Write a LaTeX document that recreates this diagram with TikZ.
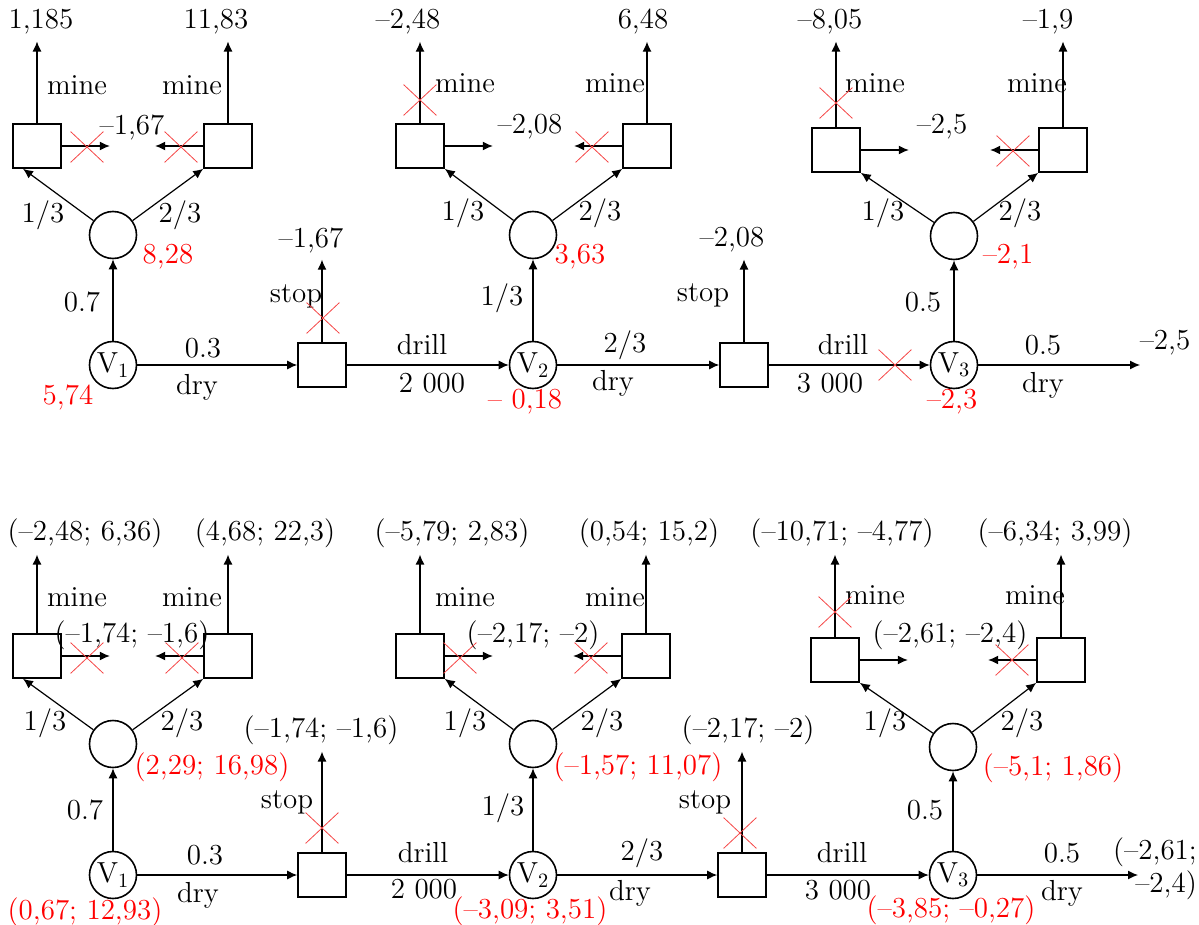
\documentclass[tikz,border=0pt]{standalone}
\usepackage{fontspec}
\usetikzlibrary{arrows.meta, positioning, shapes.misc}
\definecolor{crossred}{RGB}{245,70,70}

\begin{document}
\begin{tikzpicture}[
  x=0.5pt, y=-0.5pt,
  font=\fontsize{14.5}{16.5}\selectfont,
  dec/.style={rectangle, draw, thick, minimum width=24pt, minimum height=22pt},
  chance/.style={circle, draw, thick, minimum size=23.5pt, inner sep=0pt},
  arrow/.style={-{Latex[length=5pt, width=4.5pt]}, semithick},
  ev/.style={text=red},
  nix/.style={cross out, draw=crossred, minimum width=16pt, minimum height=15pt, inner sep=0pt}
]
\useasboundingbox (0,0) rectangle (1199,925);

% upper tree
\node (tV1) [chance] at (113,365) {V\textsubscript{1}};
\node (tC1) [chance] at (113,235) {};
\node (tL1) [dec] at (37,146) {};
\node (tR1) [dec] at (228,146) {};
\node (tS1) [dec] at (322,365) {};
\node (tV2) [chance] at (533,365) {V\textsubscript{2}};
\node (tC2) [chance] at (533,235) {};
\node (tL2) [dec] at (420,146) {};
\node (tR2) [dec] at (647,146) {};
\node (tS2) [dec] at (744,365) {};
\node (tV3) [chance] at (954,365) {V\textsubscript{3}};
\node (tC3) [chance] at (954,236) {};
\node (tL3) [dec] at (836,150) {};
\node (tR3) [dec] at (1063,150) {};
\coordinate (tE) at (1140,365);

\node (tO1) at (41,22) {1,185};
\node (tO2) at (216,22) {11,83};
\node (tO3) at (408,22) {–2,48};
\node (tO4) at (643,22) {6,48};
\node (tO5) at (830,22) {–8,05};
\node (tO6) at (1048,22) {–1,9};
\node (tO7) at (311,240) {–1,67};
\node (tO8) at (732,240) {–2,08};
\node (tO9) at (1165,343) {–2,5};
\node (tO10) at (132,127) {–1,67};
\node (tO11) at (530,127) {–2,08};
\node (tO12) at (942,127) {–2,5};

\coordinate[right=24pt of tL1.east] (tl1);
\coordinate[left=24pt of tR1.west] (tr1);
\coordinate[right=24pt of tL2.east] (tl2);
\coordinate[left=24pt of tR2.west] (tr2);
\coordinate[right=24pt of tL3.east] (tl3);
\coordinate[left=24pt of tR3.west] (tr3);

\draw [arrow] (tV1) -- (tC1);
\draw [arrow] (tV1) -- (tS1);
\draw [arrow] (tS1) -- (tV2);
\draw [arrow] (tV2) -- (tC2);
\draw [arrow] (tV2) -- (tS2);
\draw [arrow] (tS2) -- (tV3);
\draw [arrow] (tV3) -- (tC3);
\draw [arrow] (tV3) -- (tE);
\draw [arrow] (tC1) -- ([xshift=-7pt]tL1.south);
\draw [arrow] (tC1) -- (tR1.south west);
\draw [arrow] (tC2) -- (tL2.south east);
\draw [arrow] (tC2) -- (tR2.south west);
\draw [arrow] (tC3) -- (tL3.south east);
\draw [arrow] (tC3) -- (tR3.south west);
\draw [arrow] (tL1) -- (tL1 |- tO1.south);
\draw [arrow] (tR1) -- (tR1 |- tO2.south);
\draw [arrow] (tL2) -- (tL2 |- tO3.south);
\draw [arrow] (tR2) -- (tR2 |- tO4.south);
\draw [arrow] (tL3) -- (tL3 |- tO5.south);
\draw [arrow] (tR3) -- (tR3 |- tO6.south);
\draw [arrow] (tS1) -- (tS1 |- tO7.south);
\draw [arrow] (tS2) -- (tS2 |- tO8.south);
\draw [arrow] (tL1.east) -- (tl1);
\draw [arrow] (tR1.west) -- (tr1);
\draw [arrow] (tL2.east) -- (tl2);
\draw [arrow] (tR2.west) -- (tr2);
\draw [arrow] (tL3.east) -- (tl3);
\draw [arrow] (tR3.west) -- (tr3);

\node (tm1) at (77,85) {mine};
\node (tm2) at (192,85) {mine};
\node (tm3) at (465,83) {mine};
\node (tm4) at (615,83) {mine};
\node (tm5) at (875,83) {mine};
\node (tm6) at (1037,83) {mine};
\node (tp1) at (43,215) {1/3};
\node (tp2) at (180,215) {2/3};
\node (tp3) at (463,213) {1/3};
\node (tp4) at (600,213) {2/3};
\node (tp5) at (883,213) {1/3};
\node (tp6) at (1020,213) {2/3};
\node (tq1) at (82,302) {0.7};
\node (tq2) at (502,298) {1/3};
\node (tq3) at (923,302) {0.5};
\node (th1) at (203,348) {0.3};
\node (th2) at (422,345) {drill};
\node (th3) at (625,345) {2/3};
\node (th4) at (843,345) {drill};
\node (th5) at (1043,345) {0.5};
\node (tb1) at (197,387) {dry};
\node (tb2) at (432,383) {2 000};
\node (tb3) at (613,383) {dry};
\node (tb4) at (830,383) {3 000};
\node (tb5) at (1043,385) {dry};
\node (ts1) at (296,296) {stop};
\node (ts2) at (703,295) {stop};
\node (te1) [ev] at (68,397) {5,74};
\node (te2) [ev] at (168,257) {8,28};
\node (te3) [ev] at (525,402) {– 0,18};
\node (te4) [ev] at (580,257) {3,63};
\node (te5) [ev] at (952,402) {–2,3};
\node (te6) [ev] at (1008,257) {–2,1};

\node (tx1) [nix] at (87,147) {};
\node (tx2) [nix] at (181,147) {};
\node (tx3) [nix] at (323,318) {};
\node (tx4) [nix] at (420,100) {};
\node (tx5) [nix] at (592,147) {};
\node (tx6) [nix] at (895,365) {};
\node (tx7) [nix] at (836,103) {};
\node (tx8) [nix] at (1013,151) {};

% lower tree
\node (bV1) [chance] at (113,875) {V\textsubscript{1}};
\node (bC1) [chance] at (113,744) {};
\node (bL1) [dec] at (37,656) {};
\node (bR1) [dec] at (228,656) {};
\node (bS1) [dec] at (322,875) {};
\node (bV2) [chance] at (533,875) {V\textsubscript{2}};
\node (bC2) [chance] at (533,744) {};
\node (bL2) [dec] at (420,656) {};
\node (bR2) [dec] at (646,656) {};
\node (bS2) [dec] at (742,875) {};
\node (bV3) [chance] at (953,875) {V\textsubscript{3}};
\node (bC3) [chance] at (953,747) {};
\node (bL3) [dec] at (835,660) {};
\node (bR3) [dec] at (1061,660) {};
\coordinate (bE) at (1138,875);

\node (bO1) at (85,533) {(–2,48; 6,36)};
\node (bO2) at (265,533) {(4,68; 22,3)};
\node (bO3) at (452,533) {(–5,79; 2,83)};
\node (bO4) at (649,533) {(0,54; 15,2)};
\node (bO5) at (842,533) {(–10,71; –4,77)};
\node (bO6) at (1055,533) {(–6,34; 3,99)};
\node (bO7) at (321,730) {(–1,74; –1,6)};
\node (bO8) at (748,730) {(–2,17; –2)};
\node (bO9) [align=right] at (1155,869) {(–2,61;\\–2,4)};
\node (bO10) at (132,635) {(–1,74; –1,6)};
\node (bO11) at (533,635) {(–2,17; –2)};
\node (bO12) at (950,635) {(–2,61; –2,4)};

\coordinate[right=24pt of bL1.east] (bl1);
\coordinate[left=24pt of bR1.west] (br1);
\coordinate[right=24pt of bL2.east] (bl2);
\coordinate[left=24pt of bR2.west] (br2);
\coordinate[right=24pt of bL3.east] (bl3);
\coordinate[left=24pt of bR3.west] (br3);

\draw [arrow] (bV1) -- (bC1);
\draw [arrow] (bV1) -- (bS1);
\draw [arrow] (bS1) -- (bV2);
\draw [arrow] (bV2) -- (bC2);
\draw [arrow] (bV2) -- (bS2);
\draw [arrow] (bS2) -- (bV3);
\draw [arrow] (bV3) -- (bC3);
\draw [arrow] (bV3) -- (bE);
\draw [arrow] (bC1) -- ([xshift=-7pt]bL1.south);
\draw [arrow] (bC1) -- (bR1.south west);
\draw [arrow] (bC2) -- (bL2.south east);
\draw [arrow] (bC2) -- (bR2.south west);
\draw [arrow] (bC3) -- (bL3.south east);
\draw [arrow] (bC3) -- (bR3.south west);
\draw [arrow] (bL1) -- (bL1 |- bO1.south);
\draw [arrow] (bR1) -- (bR1 |- bO2.south);
\draw [arrow] (bL2) -- (bL2 |- bO3.south);
\draw [arrow] (bR2) -- (bR2 |- bO4.south);
\draw [arrow] (bL3) -- (bL3 |- bO5.south);
\draw [arrow] (bR3) -- (bR3 |- bO6.south);
\draw [arrow] (bS1) -- (bS1 |- bO7.south);
\draw [arrow] (bS2) -- (bS2 |- bO8.south);
\draw [arrow] (bL1.east) -- (bl1);
\draw [arrow] (bR1.west) -- (br1);
\draw [arrow] (bL2.east) -- (bl2);
\draw [arrow] (bR2.west) -- (br2);
\draw [arrow] (bL3.east) -- (bl3);
\draw [arrow] (bR3.west) -- (br3);

\node (bm1) at (77,597) {mine};
\node (bm2) at (192,597) {mine};
\node (bm3) at (465,597) {mine};
\node (bm4) at (615,597) {mine};
\node (bm5) at (875,595) {mine};
\node (bm6) at (1035,595) {mine};
\node (bp1) at (45,723) {1/3};
\node (bp2) at (182,723) {2/3};
\node (bp3) at (465,723) {1/3};
\node (bp4) at (602,723) {2/3};
\node (bp5) at (885,723) {1/3};
\node (bp6) at (1022,723) {2/3};
\node (bq1) at (85,810) {0.7};
\node (bq2) at (503,808) {1/3};
\node (bq3) at (925,810) {0.5};
\node (bh1) at (205,855) {0.3};
\node (bh2) at (423,853) {drill};
\node (bh3) at (642,853) {2/3};
\node (bh4) at (842,853) {drill};
\node (bh5) at (1062,853) {0.5};
\node (bb1) at (198,895) {dry};
\node (bb2) at (424,889) {2 000};
\node (bb3) at (630,893) {dry};
\node (bb4) at (838,890) {3 000};
\node (bb5) at (1062,893) {dry};
\node (bs1) at (287,802) {stop};
\node (bs2) at (705,802) {stop};
\node (be1) [ev] at (85,912) {(0,67; 12,93)};
\node (be2) [ev] at (212,767) {(2,29; 16,98)};
\node (be3) [ev] at (530,911) {(–3,09; 3,51)};
\node (be4) [ev] at (638,767) {(–1,57; 11,07)};
\node (be5) [ev] at (951,910) {(–3,85; –0,27)};
\node (be6) [ev] at (1053,768) {(–5,1; 1,86)};

\node (bx1) [nix] at (87,658) {};
\node (bx2) [nix] at (182,658) {};
\node (bx3) [nix] at (322,828) {};
\node (bx4) [nix] at (460,658) {};
\node (bx5) [nix] at (591,658) {};
\node (bx6) [nix] at (740,833) {};
\node (bx7) [nix] at (835,612) {};
\node (bx8) [nix] at (1012,660) {};

\end{tikzpicture}
\end{document}
